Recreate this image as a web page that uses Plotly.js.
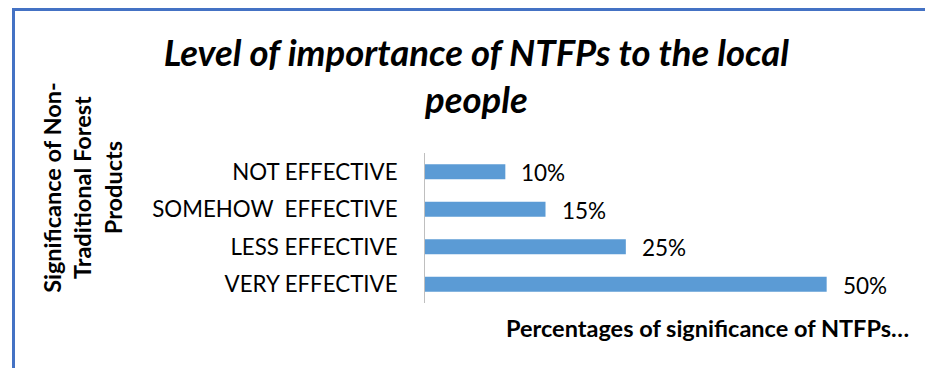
<!DOCTYPE html>
<html>
<head>
<meta charset="utf-8">
<script src="https://cdn.plot.ly/plotly-3.0.1.min.js"></script>
<style>
  html, body { margin: 0; padding: 0; background: #fff; }
  #wrap { position: relative; width: 925px; height: 368px; overflow: hidden; }
  #chart { position: absolute; left: 0; top: 0; width: 925px; height: 368px; }
  #frame { position: absolute; left: 12px; top: 8px; width: 940px; height: 400px;
           border-left: 3px solid #4472C4; border-top: 3px solid #4472C4; pointer-events: none; }
</style>
</head>
<body>
<div id="wrap">
  <div id="chart"></div>
  <div id="frame"></div>
</div>
<script>
const categories = ['VERY EFFECTIVE', 'LESS EFFECTIVE', 'SOMEHOW\u00a0 EFFECTIVE', 'NOT EFFECTIVE'];
const values = [50, 25, 15, 10];
const valueLabels = ['50%', '25%', '15%', '10%'];
const chartTitle = 'Level of importance of NTFPs to the local<br>people';
const xTitle = 'Percentages of significance of NTFPs…';
const yTitle = 'Significance of Non-<br>Traditional Forest<br>Products';

const FONT = 'Lato, "Open Sans", sans-serif';

const annotations = categories.map((c, i) => ({
  x: values[i], y: c, xref: 'x', yref: 'y',
  text: valueLabels[i], showarrow: false,
  xanchor: 'left', xshift: 14, yshift: -1,
  font: { family: FONT, size: 22.5, color: '#000' }
}));
annotations.push({
  xref: 'paper', yref: 'paper', x: -0.712, y: 0.773,
  text: yTitle, showarrow: false, textangle: -90,
  font: { family: FONT, size: 23.5, color: '#000', weight: 'bold' },
  xanchor: 'center', yanchor: 'middle'
});
annotations.push({
  xref: 'paper', yref: 'paper', x: 0.164, y: -0.167,
  text: xTitle, showarrow: false,
  font: { family: FONT, size: 23.5, color: '#000', weight: 'bold' },
  xanchor: 'left', yanchor: 'middle'
});

const trace = {
  type: 'bar', orientation: 'h',
  x: values, y: categories,
  marker: { color: '#5B9BD5' },
  hoverinfo: 'none'
};

const layout = {
  width: 925, height: 368,
  margin: { l: 425, r: 18, t: 153, b: 65 },
  paper_bgcolor: '#fff', plot_bgcolor: '#fff',
  bargap: 0.6,
  showlegend: false,
  title: {
    text: chartTitle,
    font: { family: FONT, size: 36.5, color: '#000', weight: 'bold', style: 'italic' },
    x: 0.515, xanchor: 'center', xref: 'container',
    y: 1 - 66/368, yanchor: 'top', yref: 'container'
  },
  xaxis: {
    range: [0, 60], showgrid: false, zeroline: false, showline: false,
    showticklabels: false, ticks: '', fixedrange: true
  },
  yaxis: {
    showgrid: false, zeroline: false, showline: true, linecolor: '#BFBFBF', linewidth: 1,
    ticks: '', ticklabelstandoff: 22, fixedrange: true,
    tickfont: { family: FONT, size: 22.3, color: '#000' },
    categoryorder: 'array', categoryarray: categories
  },
  annotations: annotations
};

Plotly.newPlot('chart', [trace], layout, { displayModeBar: false, staticPlot: true });
</script>
</body>
</html>
